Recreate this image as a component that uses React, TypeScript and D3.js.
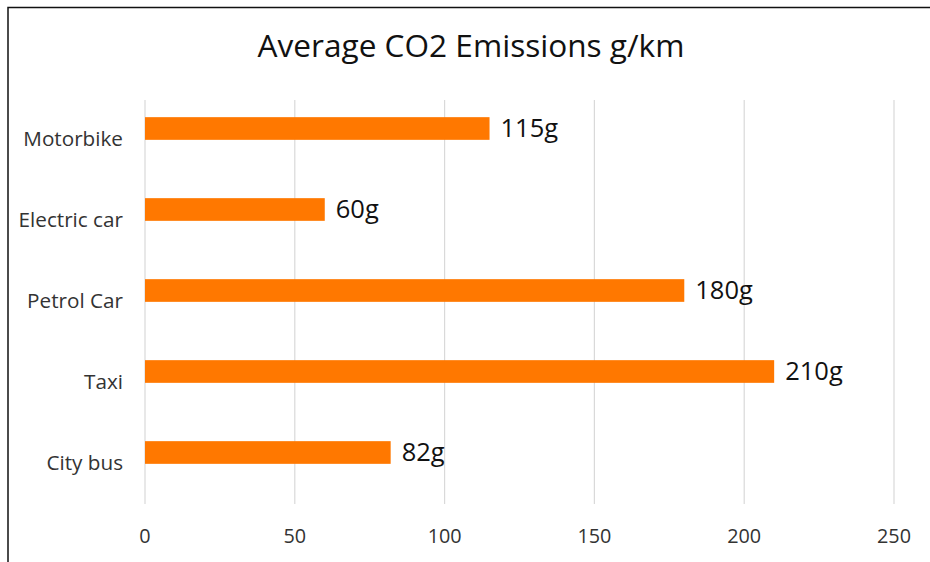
import React from "react";
import * as d3 from "d3";

const categories = ["Motorbike", "Electric car", "Petrol Car", "Taxi", "City bus"];
const values = [115, 60, 180, 210, 82];
const valueLabels = ["115g", "60g", "180g", "210g", "82g"];
const xTicks = [0, 50, 100, 150, 200, 250];
const title = "Average CO2 Emissions g/km";

export default function App() {
  const W = 930, H = 562;
  const x = d3.scaleLinear().domain([0, 250]).range([145, 894]);
  const y = d3.scaleBand().domain(categories).range([88, 493]).paddingInner(0.72).paddingOuter(0.36);
  const font = "'Open Sans', 'Noto Sans', sans-serif";
  return (
    <svg width={W} height={H} style={{ position: "absolute", left: 0, top: 0, background: "#fff" }} fontFamily={font}>
      <rect x={0} y={0} width={W} height={H} fill="#fff" />
      <path d={`M8,${H} V7.5 H${W}`} fill="none" stroke="#111" strokeWidth={1.5} />
      <text x={471} y={57} textAnchor="middle" fontSize={31.6} fill="#111">{title}</text>
      {xTicks.map((t) => (
        <g key={t}>
          <line x1={x(t)} x2={x(t)} y1={100} y2={504} stroke="#d9d9d9" strokeWidth={1.2} />
          <text x={x(t)} y={543} textAnchor="middle" fontSize={19.8} fill="#333">{t}</text>
        </g>
      ))}
      {categories.map((c, i) => {
        const by = y(c)!;
        const bh = y.bandwidth();
        return (
          <g key={c}>
            <rect x={x(0)} y={by} width={x(values[i]) - x(0)} height={bh} fill="#FF7800" />
            <text x={123} y={by + bh / 2 + 17} textAnchor="end" fontSize={20.7} fill="#333">{c}</text>
            <text x={x(values[i]) + 11} y={by + bh / 2 + 8} fontSize={25.5} fill="#111">{valueLabels[i]}</text>
          </g>
        );
      })}
    </svg>
  );
}
